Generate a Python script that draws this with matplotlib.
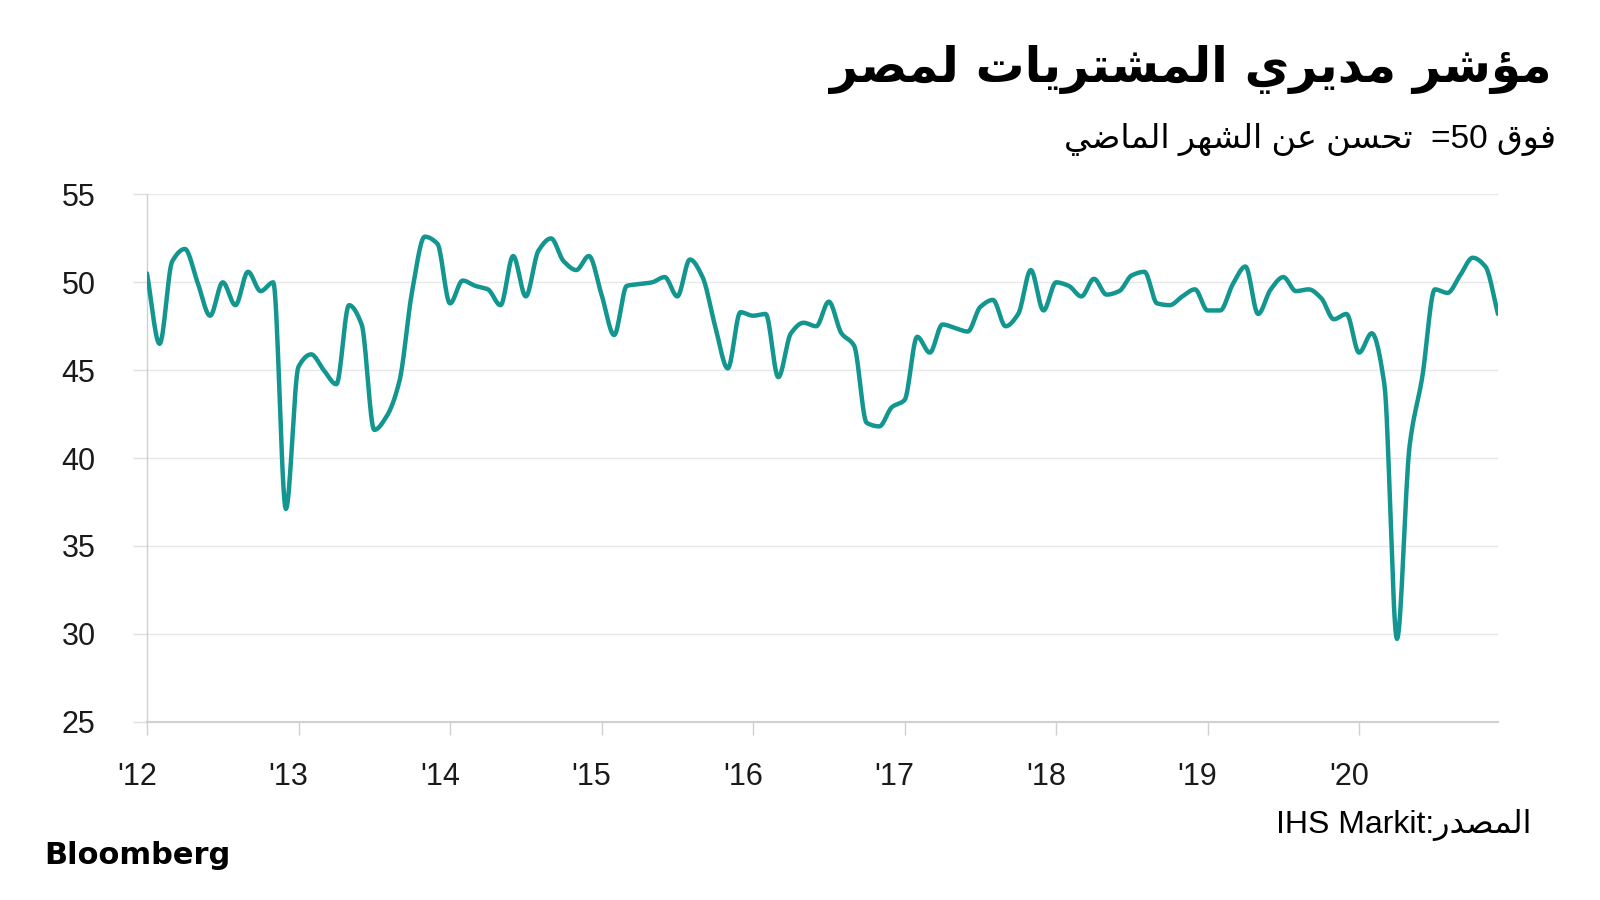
import numpy as np
import matplotlib
matplotlib.use("Agg")
import matplotlib.pyplot as plt
from matplotlib.transforms import ScaledTranslation

# ---------------- data (Egypt PMI, monthly) ----------------
year_labels = ["'12", "'13", "'14", "'15", "'16", "'17", "'18", "'19", "'20"]
pmi_2012 = [50.5, 46.5, 51.2, 51.9, 50.0, 48.1, 50.0, 48.7, 50.6, 49.5, 50.0, 37.1]
pmi_2013 = [45.2, 45.9, 45.0, 44.2, 48.7, 47.6, 41.6, 42.4, 44.4, 49.5, 52.6, 52.2]
pmi_2014 = [48.8, 50.1, 49.8, 49.6, 48.7, 51.5, 49.2, 51.8, 52.5, 51.2, 50.7, 51.5]
pmi_2015 = [49.3, 47.0, 49.8, 49.9, 50.0, 50.3, 49.2, 51.3, 50.3, 47.5, 45.1, 48.3]
pmi_2016 = [48.1, 48.2, 44.6, 47.1, 47.7, 47.5, 48.9, 47.1, 46.4, 42.0, 41.8, 42.9]
pmi_2017 = [43.3, 46.9, 46.0, 47.6, 47.4, 47.2, 48.6, 49.0, 47.5, 48.2, 50.7, 48.4]
pmi_2018 = [50.0, 49.8, 49.2, 50.2, 49.3, 49.5, 50.4, 50.6, 48.8, 48.7, 49.2, 49.6]
pmi_2019 = [48.4, 48.4, 49.9, 50.9, 48.2, 49.6, 50.3, 49.5, 49.6, 49.1, 47.9, 48.2]
pmi_2020 = [46.0, 47.1, 44.2, 29.7, 40.7, 44.6, 49.6, 49.4, 50.4, 51.4, 50.9, 48.2]
y_ticks = [25, 30, 35, 40, 45, 50, 55]

title_text = "مؤشر مديري المشتريات لمصر"
subtitle_left = "تحسن عن الشهر الماضي"
subtitle_right = "فوق"
source_label = "المصدر"

# ---------------- minimal Arabic shaping (presentation forms) ----------------
FORMS = {
    'ا': ('\uFE8D', '\uFE8E', None, None),
    'ؤ': ('\uFE85', '\uFE86', None, None),
    'د': ('\uFEA9', '\uFEAA', None, None),
    'ر': ('\uFEAD', '\uFEAE', None, None),
    'و': ('\uFEED', '\uFEEE', None, None),
    'ت': ('\uFE95', '\uFE96', '\uFE97', '\uFE98'),
    'ح': ('\uFEA1', '\uFEA2', '\uFEA3', '\uFEA4'),
    'س': ('\uFEB1', '\uFEB2', '\uFEB3', '\uFEB4'),
    'ش': ('\uFEB5', '\uFEB6', '\uFEB7', '\uFEB8'),
    'ص': ('\uFEB9', '\uFEBA', '\uFEBB', '\uFEBC'),
    'ض': ('\uFEBD', '\uFEBE', '\uFEBF', '\uFEC0'),
    'ع': ('\uFEC9', '\uFECA', '\uFECB', '\uFECC'),
    'ف': ('\uFED1', '\uFED2', '\uFED3', '\uFED4'),
    'ق': ('\uFED5', '\uFED6', '\uFED7', '\uFED8'),
    'ل': ('\uFEDD', '\uFEDE', '\uFEDF', '\uFEE0'),
    'م': ('\uFEE1', '\uFEE2', '\uFEE3', '\uFEE4'),
    'ن': ('\uFEE5', '\uFEE6', '\uFEE7', '\uFEE8'),
    'ه': ('\uFEE9', '\uFEEA', '\uFEEB', '\uFEEC'),
    'ي': ('\uFEF1', '\uFEF2', '\uFEF3', '\uFEF4'),
}


def shape_rtl(text):
    out = []
    for i, ch in enumerate(text):
        f = FORMS.get(ch)
        if f is None:
            out.append(ch)
            continue
        prev = text[i - 1] if i > 0 else None
        nxt = text[i + 1] if i + 1 < len(text) else None
        jp = prev in FORMS and FORMS[prev][2] is not None if prev else False
        jn = f[2] is not None and (nxt in FORMS if nxt else False)
        if jp and jn:
            out.append(f[3])
        elif jp:
            out.append(f[1])
        elif jn:
            out.append(f[2])
        else:
            out.append(f[0])
    return ''.join(out)[::-1]


# ---------------- smoothing (monotone cubic, for drawing only) ----------------
def monotone_curve(x, y, n=16):
    x = np.asarray(x, float)
    y = np.asarray(y, float)
    h = np.diff(x)
    d = np.diff(y) / h
    m = np.zeros_like(y)
    m[0], m[-1] = d[0], d[-1]
    for k in range(1, len(y) - 1):
        if d[k - 1] * d[k] <= 0:
            m[k] = 0.0
        else:
            w1 = 2 * h[k] + h[k - 1]
            w2 = h[k] + 2 * h[k - 1]
            m[k] = (w1 + w2) / (w1 / d[k - 1] + w2 / d[k])
    xs, ys = [], []
    for k in range(len(x) - 1):
        t = np.linspace(0, 1, n, endpoint=False)
        h00 = 2 * t**3 - 3 * t**2 + 1
        h10 = t**3 - 2 * t**2 + t
        h01 = -2 * t**3 + 3 * t**2
        h11 = t**3 - t**2
        xs.append(x[k] + t * h[k])
        ys.append(h00 * y[k] + h10 * h[k] * m[k] + h01 * y[k + 1] + h11 * h[k] * m[k + 1])
    xs.append([x[-1]])
    ys.append([y[-1]])
    return np.concatenate(xs), np.concatenate(ys)


values = (pmi_2012 + pmi_2013 + pmi_2014 + pmi_2015 + pmi_2016 +
          pmi_2017 + pmi_2018 + pmi_2019 + pmi_2020)
months = np.arange(len(values))

# ---------------- figure ----------------
LINE = '#12968f'
W, H = 1600, 900
fig = plt.figure(figsize=(16, 9), dpi=100)
fig.patch.set_facecolor('white')

left, right, top, bottom = 147, 1498, 194.5, 721.5
ax = fig.add_axes([left / W, 1 - bottom / H, (right - left) / W, (bottom - top) / H])

sx, sy = monotone_curve(months, values)
ax.plot(sx, sy, color=LINE, lw=3.2, solid_capstyle='round', solid_joinstyle='round', zorder=3)

ax.set_xlim(0, len(values) - 1)
ax.set_ylim(25, 55)

ax.set_yticks(y_ticks)
ax.set_yticklabels([str(v) for v in y_ticks])
ax.set_xticks(np.arange(0, len(values), 12))
ax.set_xticklabels(year_labels)

ax.grid(axis='y', color='#e8e8e8', lw=1.0, zorder=0)
ax.grid(axis='x', visible=False)
for s in ['top', 'right']:
    ax.spines[s].set_visible(False)
ax.spines['left'].set_color('#d0d0d0')
ax.spines['left'].set_linewidth(1.0)
ax.spines['bottom'].set_color('#d0d0d0')
ax.spines['bottom'].set_linewidth(1.5)

ax.tick_params(axis='y', length=10, width=1, color='#dddddd', pad=27,
               labelsize=22, labelcolor='#1a1a1a')
ax.tick_params(axis='x', length=9, width=1, color='#d0d0d0', pad=20,
               labelsize=22, labelcolor='#1a1a1a')
for lab in ax.get_xticklabels() + ax.get_yticklabels():
    lab.set_fontfamily(['Liberation Sans', 'DejaVu Sans'])
off = ScaledTranslation(-10 / 100, 0, fig.dpi_scale_trans)
for lab in ax.get_xticklabels():
    lab.set_transform(lab.get_transform() + off)

# ---------------- texts ----------------
fig.text(1551 / W, 1 - 70 / H, shape_rtl(title_text), ha='right', va='center',
         fontsize=35, fontweight='bold', color='#000000', family=['DejaVu Sans'])

subtitle = shape_rtl(subtitle_left) + "  =50 " + shape_rtl(subtitle_right)
fig.text(1556 / W, 1 - 140 / H, subtitle, ha='right', va='center',
         fontsize=24, color='#000000', family=['Liberation Sans', 'DejaVu Sans'])

fig.text(1531 / W, 1 - 825 / H, "IHS Markit:" + shape_rtl(source_label), ha='right', va='center',
         fontsize=23, color='#000000', family=['Liberation Sans', 'DejaVu Sans'])

fig.text(44 / W, 1 - 855 / H, "Bloomberg", ha='left', va='center',
         fontsize=22, fontweight='bold', color='#000000', family=['DejaVu Sans'])

fig.savefig('out.png', dpi=100, facecolor='white')
